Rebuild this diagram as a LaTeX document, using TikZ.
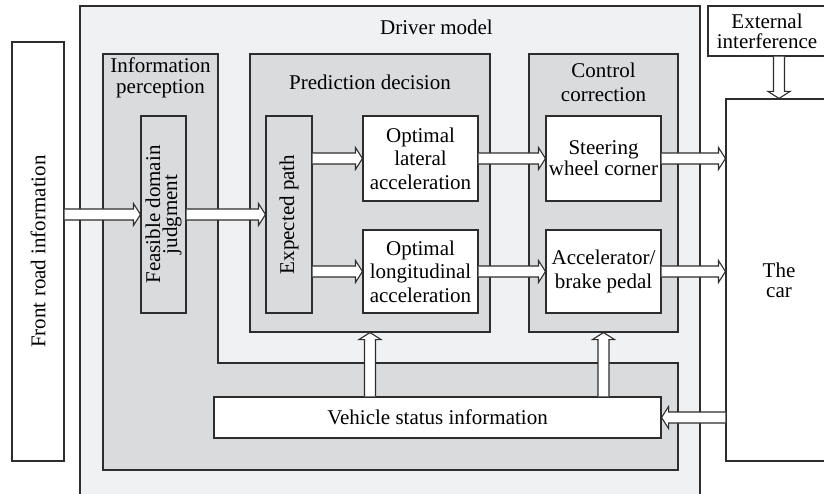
\documentclass[tikz,border=0pt]{standalone}
\usepackage{fontspec}
\setmainfont{Liberation Serif}
\usetikzlibrary{calc}
\definecolor{lightbg}{RGB}{240,241,243}
\definecolor{midbg}{RGB}{218,219,221}
\definecolor{linec}{RGB}{45,45,45}
\newcommand{\blockarr}[2]{%
  \coordinate (ba-s) at (#1);
  \coordinate (ba-t) at (#2);
  \coordinate (ba-b) at ($(ba-t)!7pt!(ba-s)$);
  \filldraw[arrline]
    ($(ba-s)!5.5pt!90:(ba-t)$) -- ($(ba-b)!5.5pt!90:(ba-t)$) --
    ($(ba-b)!11pt!90:(ba-t)$) -- (ba-t) --
    ($(ba-b)!11pt!-90:(ba-t)$) -- ($(ba-b)!5.5pt!-90:(ba-t)$) --
    ($(ba-s)!5.5pt!-90:(ba-t)$);
}
\tikzset{
  box/.style={draw=linec, line width=1.1pt, inner sep=0pt, align=center,
    font=\fontsize{21}{23.5}\selectfont},
  whitebox/.style={box, fill=white},
  graybox/.style={box, fill=midbg},
  lightbox/.style={box, fill=lightbg},
  title/.style={inner sep=0pt, align=center, font=\fontsize{21}{23.5}\selectfont},
  arrline/.style={draw=linec, fill=white, line width=1.1pt, line join=miter},
}
\begin{document}
\begin{tikzpicture}[x=1pt,y=-1pt]
\useasboundingbox (0,0) rectangle (824,494);
\clip (0,0) rectangle (824,494);
\fill[white] (0,0) rectangle (824,494);

% driver model
\node[lightbox, minimum width=620pt, minimum height=504pt] (drv) at (390,258) {};
\node[title, anchor=base] (drvt) at (436.5,34.5) {Driver model};

% front road information
\node[whitebox, rotate=90, minimum width=419pt, minimum height=52pt] (front) at (38,251.5) {Front road information};

% information perception region
\filldraw[draw=linec, fill=midbg, line width=1.1pt] (103,54) -- (218,54) -- (218,363) -- (678,363) -- (678,470) -- (103,470) -- cycle;
\node[title, font=\fontsize{21}{20.5}\selectfont] (infot) at (160.5,78) {Information\\perception};

\node[graybox, rotate=90, minimum width=197pt, minimum height=45pt, font=\fontsize{21}{17}\selectfont] (feas) at (163.5,214.5) {Feasible domain\\judgment};

% prediction decision
\node[graybox, minimum width=240pt, minimum height=278pt] (pred) at (370,193) {};
\node[title, anchor=base] (predt) at (370,90) {Prediction decision};
\node[graybox, rotate=90, minimum width=197pt, minimum height=46pt] (ep) at (289,214.5) {Expected path};
\node[whitebox, minimum width=115pt, minimum height=85pt] (ola) at (420.5,158.5) {Optimal\\lateral\\acceleration};
\node[whitebox, minimum width=115pt, minimum height=83pt] (olo) at (420.5,271.5) {Optimal\\longitudinal\\acceleration};

% control correction
\node[graybox, minimum width=149pt, minimum height=278pt] (ctrl) at (603.5,193) {};
\node[title, font=\fontsize{21}{23.7}\selectfont] (ctrlt) at (603.5,82) {Control\\correction};
\node[whitebox, minimum width=115pt, minimum height=85pt, font=\fontsize{21}{21}\selectfont] (swc) at (603.5,158.5) {Steering\\wheel corner};
\node[whitebox, minimum width=115pt, minimum height=83pt, font=\fontsize{21}{23.3}\selectfont] (abp) at (603.5,271.5) {Accelerator/\\brake pedal};

% the car and external interference
\node[whitebox, minimum width=106pt, minimum height=362pt, font=\fontsize{21}{20}\selectfont] (car) at (779,280) {The\\car};
\node[whitebox, minimum width=118pt, minimum height=50pt, font=\fontsize{21}{20}\selectfont] (ext) at (767,31) {External\\interference};

% vehicle status information
\node[whitebox, minimum width=447pt, minimum height=41pt] (vsi) at (437.5,417.5) {Vehicle status information};

% block arrows
\blockarr{front.south |- feas.center}{feas.north}
\blockarr{feas.south}{ep.north}
\blockarr{ep.south |- ola.west}{ola.west}
\blockarr{ep.south |- olo.west}{olo.west}
\blockarr{ola.east}{swc.west}
\blockarr{olo.east}{abp.west}
\blockarr{swc.east}{car.west |- swc.east}
\blockarr{abp.east}{car.west |- abp.east}
\blockarr{car.north |- ext.south}{car.north}
\blockarr{car.west |- vsi.east}{vsi.east}
\blockarr{pred.south |- vsi.north}{pred.south}
\blockarr{ctrl.south |- vsi.north}{ctrl.south}
\end{tikzpicture}
\end{document}
